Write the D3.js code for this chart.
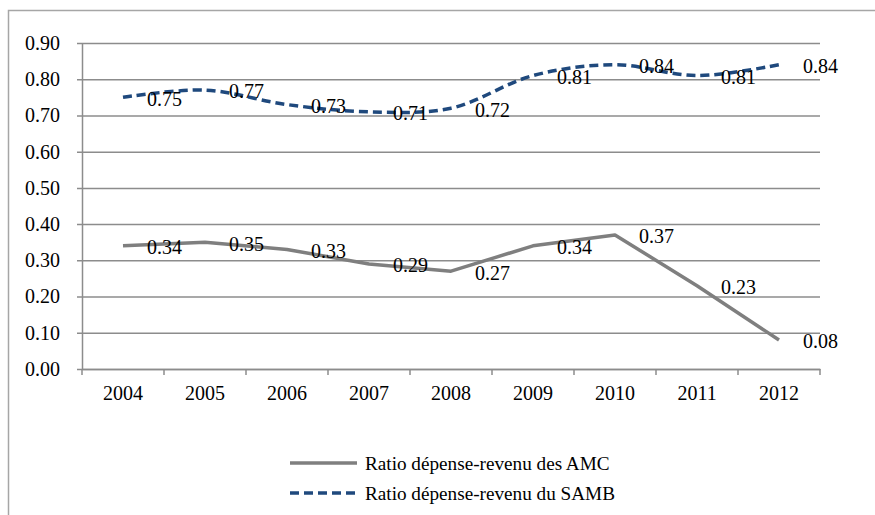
<!DOCTYPE html>
<html>
<head>
<meta charset="utf-8">
<script src="https://cdn.jsdelivr.net/npm/d3@7"></script>
<style>
  body { margin: 0; background: #fff; }
</style>
</head>
<body>
<svg></svg>
<script>
var width = 875
var height = 515

var years = ["2004", "2005", "2006", "2007", "2008", "2009", "2010", "2011", "2012"]
var amc = [0.34, 0.35, 0.33, 0.29, 0.27, 0.34, 0.37, 0.23, 0.08]
var samb = [0.75, 0.77, 0.73, 0.71, 0.72, 0.81, 0.84, 0.81, 0.84]
var yTicks = [0, 0.1, 0.2, 0.3, 0.4, 0.5, 0.6, 0.7, 0.8, 0.9]
var seriesNames = ["Ratio dépense-revenu des AMC", "Ratio dépense-revenu du SAMB"]

var plotLeft = 82, plotRight = 820, plotTop = 43, plotBottom = 369
var serif = "'Liberation Serif', 'Times New Roman', serif"
var fs = 20

var svg = d3.select("svg")
    .attr("width", width)
    .attr("height", height)
    .attr("font-family", serif)

// outer frame
svg.append("rect")
    .attr("x", 8.5)
    .attr("y", 10.5)
    .attr("width", 900)
    .attr("height", 600)
    .attr("fill", "none")
    .attr("stroke", "#a6a6a6")
    .attr("stroke-width", 1.5)

var xScale = d3.scaleBand()
    .domain(years)
    .range([plotLeft, plotRight])

var yScale = d3.scaleLinear()
    .domain([0, 0.9])
    .range([plotBottom, plotTop])

var yAxis = d3.axisLeft(yScale)
    .tickValues(yTicks)
    .tickFormat(d3.format(".2f"))
    .tickSize(-(plotRight - plotLeft))
    .tickSizeOuter(0)

var gy = svg.append("g")
    .attr("transform", `translate(${plotLeft}, 0)`)
    .call(yAxis)
gy.select(".domain").attr("stroke", "#8c8c8c").attr("stroke-width", 1.5)
gy.selectAll(".tick line")
    .attr("x1", -5)
    .attr("stroke", "#8c8c8c")
    .attr("stroke-width", 1.5)
gy.selectAll(".tick text")
    .attr("x", -22)
    .attr("font-size", fs)
    .attr("font-family", serif)
    .attr("fill", "#000")

var xAxis = d3.axisBottom(xScale)
    .tickSize(0)
    .tickSizeOuter(0)

var gx = svg.append("g")
    .attr("transform", `translate(0, ${plotBottom})`)
    .call(xAxis)
gx.select(".domain").attr("stroke", "#8c8c8c").attr("stroke-width", 1.5)
gx.selectAll(".tick text")
    .attr("y", 17)
    .attr("dy", "0.71em")
    .attr("font-size", fs)
    .attr("font-family", serif)
    .attr("fill", "#000")

// category separator ticks
gx.selectAll(".sep")
    .data(years.concat(["end"]))
    .enter()
    .append("line")
    .attr("x1", (d, i) => i < years.length ? xScale(d) : plotRight)
    .attr("x2", (d, i) => i < years.length ? xScale(d) : plotRight)
    .attr("y1", 0)
    .attr("y2", 6)
    .attr("stroke", "#8c8c8c")
    .attr("stroke-width", 1.5)

var cx = d => xScale(d) + xScale.bandwidth() / 2

var lineAmc = d3.line()
    .x((d, i) => cx(years[i]))
    .y(d => yScale(d))

var lineSamb = d3.line()
    .x((d, i) => cx(years[i]))
    .y(d => yScale(d))
    .curve(d3.curveCatmullRom)

svg.append("path")
    .datum(amc)
    .attr("d", lineAmc)
    .attr("fill", "none")
    .attr("stroke", "#7f7f7f")
    .attr("stroke-width", 3.5)
    .attr("stroke-linejoin", "round")

svg.append("path")
    .datum(samb)
    .attr("d", lineSamb)
    .attr("fill", "none")
    .attr("stroke", "#1f497d")
    .attr("stroke-width", 3.5)
    .attr("stroke-dasharray", "9,5")

function labels(values) {
    svg.append("g")
        .selectAll("text")
        .data(values)
        .enter()
        .append("text")
        .attr("x", (d, i) => cx(years[i]) + 24)
        .attr("y", d => yScale(d))
        .attr("dy", "0.42em")
        .attr("font-size", fs)
        .text(d => d.toFixed(2))
}
labels(amc)
labels(samb)

// legend
var legend = svg.append("g")
var ly = [463, 493]
legend.selectAll("line")
    .data(seriesNames)
    .enter()
    .append("line")
    .attr("x1", 290)
    .attr("x2", 357)
    .attr("y1", (d, i) => ly[i])
    .attr("y2", (d, i) => ly[i])
    .attr("stroke", (d, i) => i == 0 ? "#7f7f7f" : "#1f497d")
    .attr("stroke-width", 3.5)
    .attr("stroke-dasharray", (d, i) => i == 0 ? null : "9,5")

legend.selectAll("text")
    .data(seriesNames)
    .enter()
    .append("text")
    .attr("x", 365)
    .attr("y", (d, i) => ly[i])
    .attr("dy", "0.35em")
    .attr("font-size", 19.2)
    .text(d => d)
</script>
</body>
</html>
